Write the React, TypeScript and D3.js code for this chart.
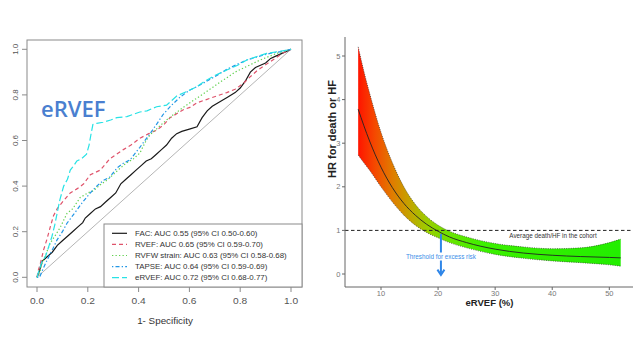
import React from "react";
import * as d3 from "d3";

// ---------- Left panel: ROC curves ----------
const facROC: [number, number][] = [
  [0, 0], [0.01, 0.03], [0.02, 0.07], [0.03, 0.08], [0.04, 0.09], [0.06, 0.11], [0.08, 0.14], [0.1, 0.16],
  [0.12, 0.18], [0.14, 0.2], [0.16, 0.22], [0.18, 0.24], [0.19, 0.26], [0.21, 0.28], [0.23, 0.3], [0.25, 0.31],
  [0.27, 0.33], [0.29, 0.35], [0.31, 0.37], [0.33, 0.41], [0.35, 0.43], [0.37, 0.45], [0.39, 0.47], [0.41, 0.49],
  [0.43, 0.51], [0.45, 0.52], [0.47, 0.54], [0.49, 0.56], [0.51, 0.58], [0.53, 0.61], [0.55, 0.63], [0.57, 0.64],
  [0.6, 0.65], [0.63, 0.66], [0.65, 0.7], [0.67, 0.73], [0.69, 0.75], [0.72, 0.77], [0.75, 0.79], [0.78, 0.81],
  [0.8, 0.83], [0.82, 0.86], [0.84, 0.9], [0.86, 0.92], [0.88, 0.93], [0.9, 0.94], [0.92, 0.96], [0.94, 0.97],
  [0.96, 0.98], [0.98, 0.99], [1, 1],
];
const rvefROC: [number, number][] = [
  [0, 0], [0.005, 0.03], [0.013, 0.06], [0.026, 0.12], [0.04, 0.17], [0.052, 0.22], [0.065, 0.27], [0.079, 0.3],
  [0.1, 0.33], [0.131, 0.37], [0.16, 0.39], [0.184, 0.41], [0.21, 0.45], [0.249, 0.47], [0.287, 0.52], [0.34, 0.56],
  [0.37, 0.58], [0.405, 0.61], [0.44, 0.63], [0.471, 0.645], [0.5, 0.67], [0.524, 0.7], [0.576, 0.735], [0.602, 0.745],
  [0.629, 0.765], [0.655, 0.775], [0.681, 0.785], [0.707, 0.795], [0.747, 0.81], [0.78, 0.825], [0.812, 0.85],
  [0.84, 0.88], [0.865, 0.905], [0.904, 0.935], [0.944, 0.965], [0.97, 0.985], [1, 1],
];
const rvfwROC: [number, number][] = [
  [0, 0], [0.01, 0.02], [0.02, 0.06], [0.035, 0.1], [0.052, 0.15], [0.07, 0.18], [0.092, 0.22], [0.105, 0.25],
  [0.118, 0.28], [0.14, 0.3], [0.17, 0.35], [0.2, 0.37], [0.223, 0.38], [0.248, 0.405], [0.28, 0.43], [0.314, 0.465],
  [0.35, 0.5], [0.38, 0.52], [0.405, 0.545], [0.425, 0.59], [0.445, 0.625], [0.47, 0.65], [0.51, 0.69], [0.545, 0.72],
  [0.576, 0.745], [0.615, 0.775], [0.655, 0.805], [0.694, 0.835], [0.733, 0.865], [0.747, 0.875], [0.78, 0.9],
  [0.826, 0.925], [0.878, 0.953], [0.944, 0.982], [1, 1],
];
const tapseROC: [number, number][] = [
  [0, 0], [0.01, 0.0], [0.025, 0.04], [0.04, 0.076], [0.06, 0.12], [0.079, 0.164], [0.1, 0.2], [0.118, 0.237],
  [0.157, 0.295], [0.18, 0.33], [0.21, 0.37], [0.235, 0.4], [0.262, 0.425], [0.287, 0.44], [0.315, 0.48], [0.34, 0.5],
  [0.366, 0.515], [0.405, 0.57], [0.445, 0.63], [0.47, 0.67], [0.497, 0.715], [0.53, 0.755], [0.563, 0.79], [0.6, 0.82],
  [0.629, 0.836], [0.66, 0.855], [0.7, 0.88], [0.747, 0.912], [0.79, 0.935], [0.826, 0.953], [0.87, 0.968],
  [0.917, 0.982], [0.96, 0.99], [1, 1],
];
const ervefROC: [number, number][] = [
  [0, 0], [0.005, 0.02], [0.02, 0.07], [0.033, 0.09], [0.045, 0.13], [0.059, 0.18], [0.07, 0.23], [0.079, 0.28],
  [0.09, 0.34], [0.105, 0.4], [0.12, 0.43], [0.131, 0.47], [0.145, 0.49], [0.157, 0.51], [0.175, 0.52], [0.195, 0.54],
  [0.205, 0.58], [0.213, 0.63], [0.22, 0.67], [0.235, 0.675], [0.26, 0.68], [0.29, 0.69], [0.314, 0.7], [0.354, 0.705],
  [0.405, 0.725], [0.433, 0.73], [0.471, 0.748], [0.51, 0.755], [0.55, 0.795], [0.59, 0.815], [0.629, 0.836],
  [0.66, 0.86], [0.7, 0.885], [0.747, 0.909], [0.79, 0.93], [0.826, 0.953], [0.87, 0.97], [0.904, 0.982],
  [0.95, 0.99], [1, 1],
];
const rocLabels = [
  "FAC: AUC 0.55 (95% CI 0.50-0.60)",
  "RVEF: AUC 0.65 (95% CI 0.59-0.70)",
  "RVFW strain: AUC 0.63 (95% CI 0.58-0.68)",
  "TAPSE: AUC 0.64 (95% CI 0.59-0.69)",
  "eRVEF: AUC 0.72 (95% CI 0.68-0.77)",
];
const rocTicks = [0, 0.2, 0.4, 0.6, 0.8, 1.0];

// ---------- Right panel: HR spline ----------
const ervefX = [6, 7, 8, 10, 12, 14, 16, 18, 20, 22, 25, 30, 35, 40, 45, 50, 52];
const hrFit = [3.78, 3.4, 3.05, 2.45, 1.98, 1.62, 1.35, 1.14, 0.98, 0.85, 0.72, 0.57, 0.48, 0.43, 0.4, 0.38, 0.37];
const hrUpper = [5.21, 4.65, 4.15, 3.25, 2.55, 2.0, 1.6, 1.32, 1.12, 0.98, 0.85, 0.7, 0.62, 0.58, 0.6, 0.72, 0.8];
const hrLower = [2.73, 2.55, 2.38, 2.0, 1.65, 1.35, 1.12, 0.95, 0.83, 0.72, 0.6, 0.45, 0.36, 0.3, 0.26, 0.21, 0.18];
const hrXTicks = [10, 20, 30, 40, 50];
const hrYTicks = [0, 1, 2, 3, 4, 5];
const averageHR = 1;
const thresholdX = 20.5;

const FONT = "'Liberation Sans', Arial, Helvetica, sans-serif";

export default function App() {
  // left scales
  const xL = d3.scaleLinear().domain([0, 1]).range([37, 291]);
  const yL = d3.scaleLinear().domain([0, 1]).range([277.3, 49.3]);
  const rocLine = d3.line<[number, number]>().x((d) => xL(d[0])).y((d) => yL(d[1]));

  const series = [
    { data: facROC, color: "#1a1a1a", dash: "none" },
    { data: rvefROC, color: "#DF536B", dash: "4 3" },
    { data: rvfwROC, color: "#61D04F", dash: "1.3 2.2" },
    { data: tapseROC, color: "#2297E6", dash: "1.3 2.2 4 2.2" },
    { data: ervefROC, color: "#28E2E5", dash: "7 3" },
  ];

  // right scales
  const xR = d3.scaleLinear().domain([10, 50]).range([381, 609.3]);
  const yR = d3.scaleLinear().domain([0, 5]).range([274, 56]);
  const idx = ervefX.map((_, i) => i);
  const band = d3
    .area<number>()
    .x((i) => xR(ervefX[i]))
    .y0((i) => yR(hrLower[i]))
    .y1((i) => yR(hrUpper[i]))
    .curve(d3.curveMonotoneX);
  const mkLine = (arr: number[]) =>
    d3
      .line<number>()
      .x((i) => xR(ervefX[i]))
      .y((i) => yR(arr[i]))
      .curve(d3.curveMonotoneX)(idx) as string;

  const x0 = xR(ervefX[0]);
  const x1 = xR(ervefX[ervefX.length - 1]);
  const off = (v: number) => (xR(v) - x0) / (x1 - x0);

  return (
    <svg width={640} height={360} style={{ position: "absolute", left: 0, top: 0, background: "#fff" }} fontFamily={FONT}>
      <rect x={0} y={0} width={640} height={360} fill="#fff" />
      {/* ---------------- Left panel ---------------- */}
      <line x1={xL(0)} y1={yL(0)} x2={xL(1)} y2={yL(1)} stroke="#b5b5b5" strokeWidth={1} />
      {series.map((s, i) => (
        <path key={i} d={rocLine(s.data) as string} fill="none" stroke={s.color} strokeWidth={1.2} strokeDasharray={s.dash} />
      ))}
      <rect x={27} y={40} width={275} height={247} fill="none" stroke="#8a8a8a" strokeWidth={1} />
      {rocTicks.map((t) => (
        <g key={"xt" + t}>
          <line x1={xL(t)} x2={xL(t)} y1={287} y2={292} stroke="#8a8a8a" />
          <text transform={`translate(${xL(t)},303.5) scale(1.2,1)`} textAnchor="middle" fontSize={8.5} fill="#555">
            {t.toFixed(1)}
          </text>
        </g>
      ))}
      {rocTicks.map((t) => (
        <g key={"yt" + t}>
          <line x1={22} x2={27} y1={yL(t)} y2={yL(t)} stroke="#8a8a8a" />
          <text transform={`translate(17.5,${yL(t)}) rotate(-90)`} textAnchor="middle" fontSize={8} fill="#555">
            {t.toFixed(1)}
          </text>
        </g>
      ))}
      <text transform="translate(165,323.5) scale(1.2,1)" textAnchor="middle" fontSize={8.2} fill="#333">
        1- Specificity
      </text>
      <rect x={104} y={224} width={198} height={63} fill="#fff" stroke="#8a8a8a" strokeWidth={1} />
      {series.map((s, i) => {
        const cy = 233.3 + i * 11.1;
        return (
          <g key={"lg" + i}>
            <line x1={112} x2={127} y1={cy} y2={cy} stroke={s.color} strokeWidth={1.2} strokeDasharray={s.dash} />
            <text transform={`translate(135,${cy + 2.4}) scale(1.2,1)`} fontSize={6.6} fill="#333">
              {rocLabels[i]}
            </text>
          </g>
        );
      })}
      <text x={41} y={117} fontSize={22} fill="#4a7fd0" fontFamily="'Open Sans', 'Noto Sans', sans-serif" fontWeight={600}>
        eRVEF
      </text>

      {/* ---------------- Right panel ---------------- */}
      <defs>
        <linearGradient id="hrGrad" gradientUnits="userSpaceOnUse" x1={x0} y1={0} x2={x1} y2={0}>
          <stop offset={0} stopColor="#ff1400" />
          <stop offset={off(9)} stopColor="#f44a00" />
          <stop offset={off(12)} stopColor="#e07c00" />
          <stop offset={off(15)} stopColor="#c4a400" />
          <stop offset={off(18)} stopColor="#9ccc00" />
          <stop offset={off(22)} stopColor="#6ae400" />
          <stop offset={off(28)} stopColor="#3cf000" />
          <stop offset={1} stopColor="#22ee00" />
        </linearGradient>
      </defs>
      <path d={band(idx) as string} fill="url(#hrGrad)" />
      <path d={mkLine(hrUpper)} fill="none" stroke="#333" strokeWidth={0.7} strokeDasharray="1 1.3" />
      <path d={mkLine(hrLower)} fill="none" stroke="#333" strokeWidth={0.7} strokeDasharray="1 1.3" />
      <path d={mkLine(hrFit)} fill="none" stroke="#222" strokeWidth={0.9} />
      <line x1={345} x2={633} y1={yR(averageHR)} y2={yR(averageHR)} stroke="#222" strokeWidth={1} strokeDasharray="3.5 2.5" />
      <text x={553} y={yR(averageHR) + 8} textAnchor="middle" fontSize={6.3} fill="#333">
        Average death/HF in the cohort
      </text>
      <line x1={xR(thresholdX)} x2={xR(thresholdX)} y1={yR(0.92)} y2={yR(-0.01)} stroke="#2f86e8" strokeWidth={2} />
      <polyline
        points={`${xR(thresholdX) - 3.5},${yR(0.1)} ${xR(thresholdX)},${yR(-0.02)} ${xR(thresholdX) + 3.5},${yR(0.1)}`}
        fill="none"
        stroke="#2f86e8"
        strokeWidth={2}
      />
      <rect x={405} y={252.5} width={72} height={8} fill="#fff" />
      <text x={xR(thresholdX)} y={259} textAnchor="middle" fontSize={6.3} fill="#3a8ee8">
        Threshold for excess risk
      </text>
      <line x1={345} x2={345} y1={37} y2={287} stroke="#666" strokeWidth={1} />
      <line x1={345} x2={633} y1={287} y2={287} stroke="#666" strokeWidth={1} />
      {hrYTicks.map((t) => (
        <g key={"hy" + t}>
          <line x1={342} x2={345} y1={yR(t)} y2={yR(t)} stroke="#666" />
          <text x={340.5} y={yR(t) + 2.6} textAnchor="end" fontSize={7.5} fill="#777">
            {t}
          </text>
        </g>
      ))}
      {hrXTicks.map((t) => (
        <g key={"hx" + t}>
          <line x1={xR(t)} x2={xR(t)} y1={287} y2={290} stroke="#666" />
          <text x={xR(t)} y={295.5} textAnchor="middle" fontSize={7.5} fill="#777">
            {t}
          </text>
        </g>
      ))}
      <text x={489.5} y={306} textAnchor="middle" fontSize={9.5} fontWeight="bold" fill="#222">
        eRVEF (%)
      </text>
      <text transform="translate(336,129) rotate(-90)" textAnchor="middle" fontSize={11} fontWeight="bold" fill="#222">
        HR for death or HF
      </text>
    </svg>
  );
}
